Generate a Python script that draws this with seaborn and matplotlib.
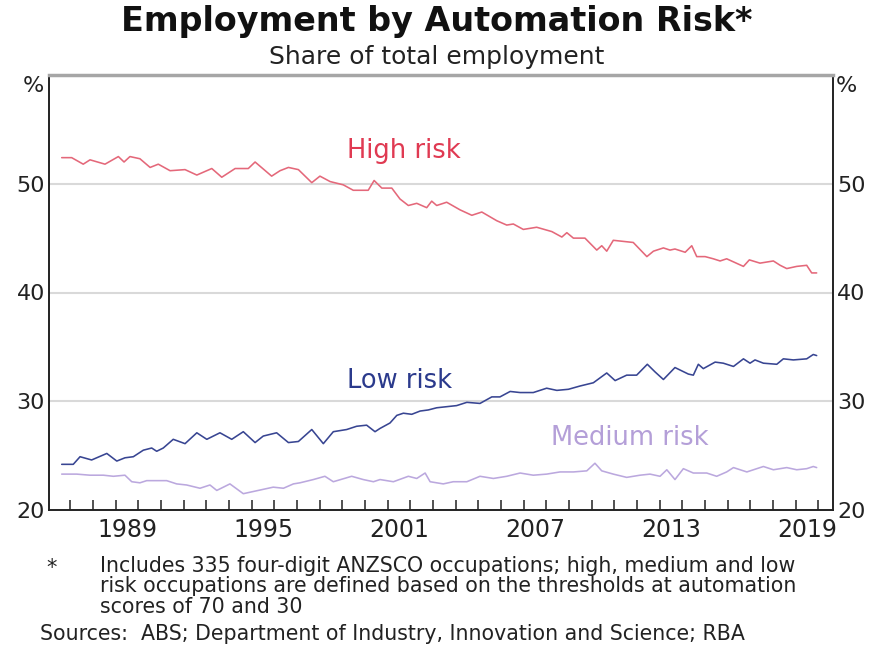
import numpy as np
import pandas as pd
import matplotlib
matplotlib.use("Agg")
import matplotlib.pyplot as plt
import seaborn as sns
from matplotlib.ticker import FixedLocator, NullFormatter, FixedFormatter

# ---------------- data ----------------
high_years = [1986.62, 1987.06, 1987.57, 1987.87, 1988.53, 1989.12, 1989.37, 1989.63,
              1990.07, 1990.52, 1990.88, 1991.40, 1992.06, 1992.58, 1993.24, 1993.68,
              1994.27, 1994.85, 1995.15, 1995.88, 1996.25, 1996.62, 1997.06, 1997.65,
              1998.01, 1998.46, 1999.04, 1999.48, 2000.14, 2000.40, 2000.74, 2001.18,
              2001.54, 2001.91, 2002.28, 2002.72, 2002.94, 2003.16, 2003.60, 2004.19,
              2004.71, 2005.15, 2005.81, 2006.25, 2006.54, 2006.98, 2007.57, 2008.24,
              2008.68, 2008.90, 2009.19, 2009.70, 2010.22, 2010.44, 2010.66, 2010.95,
              2011.39, 2011.83, 2012.43, 2012.72, 2013.16, 2013.45, 2013.67, 2014.12,
              2014.41, 2014.63, 2015.00, 2015.36, 2015.66, 2015.95, 2016.69, 2016.95,
              2017.42, 2018.01, 2018.31, 2018.60, 2019.04, 2019.48, 2019.70, 2019.92]
high_vals = [52.4, 52.4, 51.8, 52.2, 51.8, 52.5, 52.0, 52.5,
             52.3, 51.5, 51.8, 51.2, 51.3, 50.8, 51.4, 50.6,
             51.4, 51.4, 52.0, 50.7, 51.2, 51.5, 51.3, 50.1,
             50.7, 50.2, 49.9, 49.4, 49.4, 50.3, 49.6, 49.6,
             48.6, 48.0, 48.2, 47.8, 48.4, 48.0, 48.3, 47.6,
             47.1, 47.4, 46.6, 46.2, 46.3, 45.8, 46.0, 45.6,
             45.1, 45.5, 45.0, 45.0, 43.9, 44.3, 43.8, 44.8,
             44.7, 44.6, 43.3, 43.8, 44.1, 43.9, 44.0, 43.7,
             44.3, 43.3, 43.3, 43.1, 42.9, 43.1, 42.4, 43.0,
             42.7, 42.9, 42.5, 42.2, 42.4, 42.5, 41.8, 41.8]

low_years = [1986.62, 1987.13, 1987.43, 1987.94, 1988.61, 1989.05, 1989.41, 1989.78,
             1990.22, 1990.59, 1990.81, 1991.10, 1991.54, 1992.06, 1992.58, 1993.02,
             1993.60, 1994.12, 1994.63, 1995.15, 1995.51, 1996.10, 1996.62, 1997.06,
             1997.65, 1998.16, 1998.60, 1999.19, 1999.63, 2000.07, 2000.44, 2000.66,
             2001.10, 2001.40, 2001.69, 2002.06, 2002.43, 2002.79, 2003.16, 2003.60,
             2004.04, 2004.49, 2005.07, 2005.59, 2005.95, 2006.40, 2006.84, 2007.42,
             2008.01, 2008.46, 2008.97, 2009.48, 2010.07, 2010.66, 2011.03, 2011.54,
             2011.98, 2012.45, 2012.79, 2013.16, 2013.67, 2014.26, 2014.48, 2014.70,
             2014.92, 2015.44, 2015.80, 2016.25, 2016.69, 2016.98, 2017.20, 2017.57,
             2018.16, 2018.45, 2018.89, 2019.48, 2019.77, 2019.92]
low_vals = [24.2, 24.2, 24.9, 24.6, 25.2, 24.5, 24.8, 24.9,
            25.5, 25.7, 25.4, 25.7, 26.5, 26.1, 27.1, 26.5,
            27.1, 26.5, 27.2, 26.2, 26.8, 27.1, 26.2, 26.3,
            27.4, 26.1, 27.2, 27.4, 27.7, 27.8, 27.2, 27.5,
            28.0, 28.7, 28.9, 28.8, 29.1, 29.2, 29.4, 29.5,
            29.6, 29.9, 29.8, 30.4, 30.4, 30.9, 30.8, 30.8,
            31.2, 31.0, 31.1, 31.4, 31.7, 32.6, 31.9, 32.4,
            32.4, 33.4, 32.7, 32.0, 33.1, 32.5, 32.4, 33.4,
            33.0, 33.6, 33.5, 33.2, 33.9, 33.5, 33.8, 33.5,
            33.4, 33.9, 33.8, 33.9, 34.3, 34.2]

med_years = [1986.62, 1987.28, 1987.87, 1988.46, 1988.90, 1989.41, 1989.71, 1990.07,
             1990.37, 1991.25, 1991.69, 1992.13, 1992.72, 1993.16, 1993.46, 1994.04,
             1994.63, 1995.07, 1995.51, 1995.95, 1996.40, 1996.84, 1997.13, 1997.72,
             1998.23, 1998.60, 1999.41, 1999.92, 2000.37, 2000.66, 2001.25, 2001.91,
             2002.28, 2002.65, 2002.87, 2003.45, 2003.89, 2004.49, 2005.07, 2005.66,
             2006.25, 2006.84, 2007.42, 2008.01, 2008.60, 2009.19, 2009.78, 2010.14,
             2010.44, 2010.95, 2011.54, 2012.13, 2012.57, 2013.01, 2013.31, 2013.67,
             2014.04, 2014.48, 2015.07, 2015.51, 2015.95, 2016.25, 2016.84, 2017.57,
             2018.01, 2018.60, 2019.04, 2019.48, 2019.77, 2019.92]
med_vals = [23.3, 23.3, 23.2, 23.2, 23.1, 23.2, 22.6, 22.5,
            22.7, 22.7, 22.4, 22.3, 22.0, 22.3, 21.8, 22.4,
            21.5, 21.7, 21.9, 22.1, 22.0, 22.4, 22.5, 22.8,
            23.1, 22.6, 23.1, 22.8, 22.6, 22.8, 22.6, 23.1,
            22.9, 23.4, 22.6, 22.4, 22.6, 22.6, 23.1, 22.9,
            23.1, 23.4, 23.2, 23.3, 23.5, 23.5, 23.6, 24.3,
            23.6, 23.3, 23.0, 23.2, 23.3, 23.1, 23.7, 22.8,
            23.8, 23.4, 23.4, 23.1, 23.5, 23.9, 23.5, 24.0,
            23.7, 23.9, 23.7, 23.8, 24.0, 23.9]

series_colors = {"High risk": "#e4687a", "Low risk": "#384592", "Medium risk": "#bba8de"}
label_colors = {"High risk": "#e03a52", "Low risk": "#2b3a8c", "Medium risk": "#b49fd8"}

y_ticks = [20, 30, 40, 50]
year_ticks = list(range(1987, 2021))
x_label_years = [1989, 1995, 2001, 2007, 2013, 2019]

title = "Employment by Automation Risk*"
subtitle = "Share of total employment"
foot_lines = ["Includes 335 four-digit ANZSCO occupations; high, medium and low",
              "risk occupations are defined based on the thresholds at automation",
              "scores of 70 and 30"]
sources = "Sources:  ABS; Department of Industry, Innovation and Science; RBA"

# ---------------- build frame ----------------
df = pd.concat([
    pd.DataFrame({"year": high_years, "share": high_vals, "series": "High risk"}),
    pd.DataFrame({"year": low_years, "share": low_vals, "series": "Low risk"}),
    pd.DataFrame({"year": med_years, "share": med_vals, "series": "Medium risk"}),
], ignore_index=True)

sns.set_theme(style="white")
plt.rcParams["font.family"] = ["DejaVu Sans"]

W, H = 870, 648
fig = plt.figure(figsize=(W / 100, H / 100), dpi=100)
ax = fig.add_axes([49 / W, 138 / H, 784 / W, 435 / H])

for v in y_ticks[1:]:
    ax.axhline(v, color="#d9d9d9", lw=1.5, zorder=0)

sns.lineplot(data=df, x="year", y="share", hue="series", palette=series_colors,
             estimator=None, sort=False, legend=False, ax=ax, linewidth=1.15)

ax.set_xlim(1986.06, 2020.64)
ax.set_ylim(20, 60)
ax.set_xlabel("")
ax.set_ylabel("")

# y axis
ax.set_yticks(y_ticks)
ax.set_yticklabels([str(v) for v in y_ticks])
ax.tick_params(axis="y", which="both", left=False, right=False, length=0,
               labelleft=True, labelright=True, labelsize=16, pad=3, colors="#222222")

# x axis: yearly inward ticks, labels centred mid-year
ax.xaxis.set_major_locator(FixedLocator(year_ticks))
ax.xaxis.set_major_formatter(NullFormatter())
ax.xaxis.set_minor_locator(FixedLocator([y + 0.5 for y in x_label_years]))
ax.xaxis.set_minor_formatter(FixedFormatter([str(y) for y in x_label_years]))
ax.tick_params(axis="x", which="major", bottom=True, top=False, direction="in",
               length=7, width=1.1, color="#222222")
ax.tick_params(axis="x", which="minor", bottom=True, top=False, length=0,
               labelsize=17, pad=6, labelcolor="#222222")

for s in ["left", "right", "bottom"]:
    ax.spines[s].set_visible(True)
    ax.spines[s].set_color("#222222")
    ax.spines[s].set_linewidth(1.4)
ax.spines["top"].set_visible(True)
ax.spines["top"].set_color("#a6a6a6")
ax.spines["top"].set_linewidth(2.5)

# % markers
ax.text(-0.007, 0.975, "%", transform=ax.transAxes, ha="right", va="center",
        fontsize=16, color="#222222")
ax.text(1.004, 0.975, "%", transform=ax.transAxes, ha="left", va="center",
        fontsize=16, color="#222222")

# series labels
ax.text(2001.72, 53.0, "High risk", color=label_colors["High risk"], fontsize=18.5,
        ha="center", va="center")
ax.text(2001.54, 31.9, "Low risk", color=label_colors["Low risk"], fontsize=18.5,
        ha="center", va="center")
ax.text(2011.69, 26.6, "Medium risk", color=label_colors["Medium risk"], fontsize=18.5,
        ha="center", va="center")

# titles
fig.text(437 / W, 1 - 22 / H, title, ha="center", va="center", fontsize=24,
         fontweight="bold", color="#111111")
fig.text(437 / W, 1 - 57 / H, subtitle, ha="center", va="center", fontsize=18,
         color="#222222")

# footnotes
fig.text(52 / W, 1 - 568 / H, "*", ha="center", va="center", fontsize=15, color="#222222")
for i, line in enumerate(foot_lines):
    fig.text(100 / W, 1 - (566 + 20.5 * i) / H, line, ha="left", va="center",
             fontsize=14.8, color="#222222")
fig.text(40 / W, 1 - 634 / H, sources, ha="left", va="center", fontsize=14.8,
         color="#222222")

fig.savefig("out.png", dpi=100)
